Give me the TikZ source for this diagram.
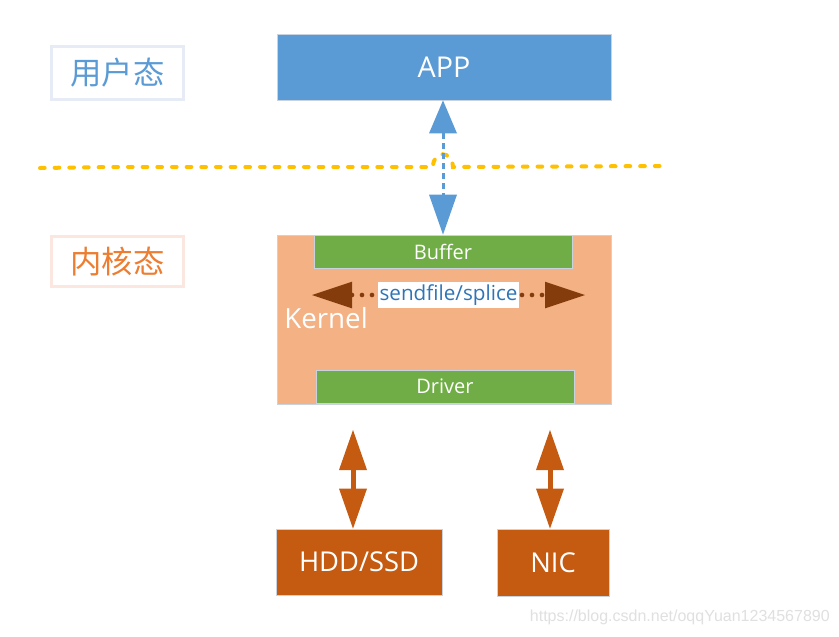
\documentclass[tikz,border=0pt]{standalone}
\usepackage{fontspec}
\setmainfont{Open Sans}
\newfontfamily\cjk{Noto Sans CJK SC}
\newfontfamily\wmfont{Liberation Sans}
\usetikzlibrary{arrows.meta}
\definecolor{appblue}{HTML}{5B9BD5}
\definecolor{kerncol}{HTML}{F4B183}
\definecolor{bufgreen}{HTML}{70AD47}
\definecolor{devorange}{HTML}{C55A11}
\definecolor{brownarr}{HTML}{843C0C}
\definecolor{lineyellow}{HTML}{FFC000}
\definecolor{lblorange}{HTML}{ED7D31}
\definecolor{sendblue}{HTML}{2E75B6}
\definecolor{userborder}{HTML}{E6EBF5}
\definecolor{kernborder}{HTML}{FBE7E0}
\definecolor{thinborder}{HTML}{C9D3E0}
\tikzset{
  lblbox/.style={draw, line width=2.25pt, inner sep=0pt, font=\cjk\fontsize{23.5}{27}\selectfont},
  solidbox/.style={draw=thinborder, line width=0.6pt, inner sep=0pt, text=white},
  bluearrow/.style={draw=appblue, line width=2.25pt, dash pattern=on 4.5pt off 3pt,
     {Triangle[length=24.75pt,width=21pt,fill=appblue,line width=0pt,sep=0pt]}-{Triangle[length=30pt,width=21pt,fill=appblue,line width=0pt]}},
  brownarrowst/.style={draw=brownarr, line width=3.5pt, line cap=round, dash pattern=on 0pt off 7.5pt,
     {Triangle[length=30pt,width=20pt,fill=brownarr,line width=0pt]}-{Triangle[length=30pt,width=20pt,fill=brownarr,line width=0pt]}},
  orangearrow/.style={draw=devorange, line width=3.75pt,
     {Triangle[length=30pt,width=21pt,fill=devorange,line width=0pt]}-{Triangle[length=30pt,width=21pt,fill=devorange,line width=0pt]}},
  yellowline/.style={draw=lineyellow, line width=3pt, line cap=round, dash pattern=on 3.5pt off 7.5pt}
}
\begin{document}
\begin{tikzpicture}[x=0.75pt,y=-0.75pt]
\useasboundingbox[fill=white] (0,0) rectangle (839,636);

% labels
\node[lblbox, draw=userborder, text=appblue, minimum width=99pt, minimum height=39.75pt] (user) at (117.5,73) {用户态};
\node[lblbox, draw=kernborder, text=lblorange, minimum width=99pt, minimum height=37.5pt] (kern) at (117.5,261.5) {内核态};

% boxes
\node[solidbox, fill=appblue, minimum width=250.5pt, minimum height=49.5pt, font=\fontsize{21.5}{25}\selectfont] (app) at (444,67) {APP};
\node[solidbox, fill=kerncol, minimum width=250.5pt, minimum height=126.75pt] (kernel) at (444,319.5) {};
\node[solidbox, fill=bufgreen, minimum width=193.5pt, minimum height=24.75pt, font=\fontsize{15}{18}\selectfont] (buffer) at (443,251.5) {Buffer};
\node[solidbox, fill=bufgreen, minimum width=193.5pt, minimum height=24.75pt, font=\fontsize{15}{18}\selectfont] (driver) at (445,386.5) {Driver};
\node[text=white, anchor=west, inner sep=0pt, font=\fontsize{20.8}{25}\selectfont] (kerneltxt) at (284,318) {Kernel};
\node[solidbox, fill=devorange, minimum width=124.5pt, minimum height=49.5pt, font=\fontsize{20.5}{24}\selectfont] (hdd) at (359,562) {HDD/SSD};
\node[solidbox, fill=devorange, minimum width=84pt, minimum height=50.25pt, font=\fontsize{20.5}{24}\selectfont] (nic) at (553,562.5) {NIC};

% yellow boundary line
\coordinate (yl) at (40,168);
\coordinate (yr) at (660,166);
\draw[yellowline] (yl) -- (110,167) -- (433,167) .. controls (433,150) and (452,150) .. (453,167) -- (yr);

% app <-> buffer
\draw[bluearrow] (app.south -| buffer.north) -- (buffer.north);

% sendfile/splice
\coordinate (sl) at (312,295);
\coordinate (sr) at (585,295);
\draw[brownarrowst] (sl) -- (sr);
\node[fill=white, text=sendblue, inner sep=1pt, minimum height=19.5pt, font=\fontsize{15.5}{18}\selectfont] (send) at (448.5,295) {sendfile/splice};

% device arrows
\coordinate (h1) at (353,430);
\coordinate (n1) at (550,430);
\draw[orangearrow] (h1) -- (h1 |- hdd.north);
\draw[orangearrow] (n1) -- (n1 |- nic.north);

% watermark
\node[text=black!12, anchor=east, inner sep=0pt, font=\wmfont\fontsize{12}{14}\selectfont] (wm) at (830,617) {https://blog.csdn.net/oqqYuan1234567890};
\end{tikzpicture}
\end{document}
